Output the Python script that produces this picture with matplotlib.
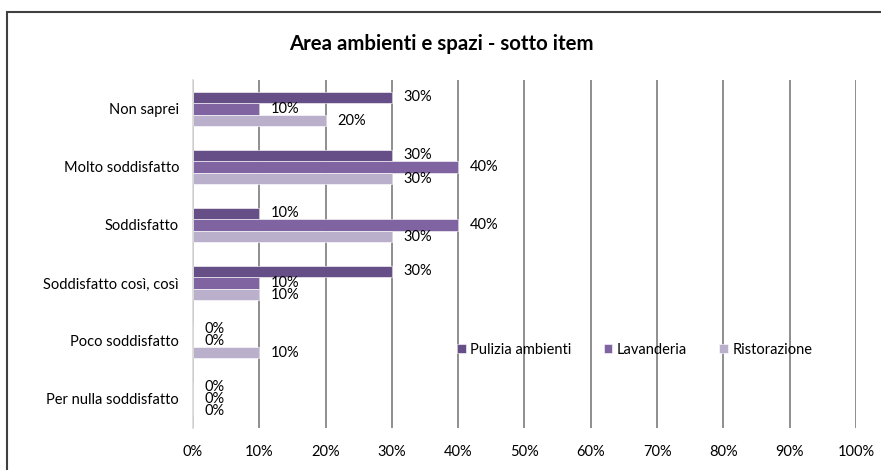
import matplotlib.pyplot as plt
import matplotlib.patches as patches
import numpy as np

# data
categories = ['Non saprei', 'Molto soddisfatto', 'Soddisfatto',
              'Soddisfatto così, così', 'Poco soddisfatto', 'Per nulla soddisfatto']
pulizia = [30, 30, 10, 30, 0, 0]
lavanderia = [10, 40, 40, 10, 0, 0]
ristorazione = [20, 30, 30, 10, 10, 0]

series = [('Pulizia ambienti', pulizia, '#654F86'),
          ('Lavanderia', lavanderia, '#8064A2'),
          ('Ristorazione', ristorazione, '#BAB0CB')]

plt.rcParams['font.family'] = ['Lato', 'DejaVu Sans']
FS = 10.5

fig = plt.figure(figsize=(8.81, 4.70), dpi=100)
ax = fig.add_axes([0.219, 0.0894, 0.7526, 0.7404])

y = np.arange(len(categories))
h = 0.2
offsets = [-h, 0, h]

for (name, vals, col), off in zip(series, offsets):
    ax.barh(y + off, vals, height=h, color=col, edgecolor='white',
            linewidth=0.4, label=name, zorder=3)
    for yi, v in zip(y, vals):
        ax.text(v + 1.8, yi + off, '%d%%' % v, va='center', ha='left',
                fontsize=FS, color='#000000', zorder=4)

ax.set_xlim(0, 100)
ax.set_ylim(len(categories) - 0.5, -0.5)
ax.set_xticks(np.arange(0, 101, 10))
ax.set_xticklabels(['%d%%' % t for t in range(0, 101, 10)])
ax.set_yticks(y)
ax.set_yticklabels(categories)
ax.tick_params(axis='both', length=0, labelsize=FS)
ax.tick_params(axis='y', pad=10)
ax.tick_params(axis='x', pad=12)

ax.xaxis.grid(True, color='#868686', linewidth=1.3, zorder=0)
ax.set_axisbelow(True)
for s in ['top', 'right', 'bottom']:
    ax.spines[s].set_visible(False)
ax.spines['left'].set_color('#D9D9D9')
ax.spines['left'].set_linewidth(1.2)
ax.spines['left'].set_zorder(5)

fig.text(441 / 881, 1 - 44 / 470, 'Area ambienti e spazi - sotto item',
         ha='center', va='center', fontsize=14.7, fontweight='bold')

leg = ax.legend(loc='center left', bbox_to_anchor=(444 / 881, 1 - 350 / 470),
                bbox_transform=fig.transFigure, ncol=3, frameon=False,
                fontsize=FS, handlelength=0.6, handleheight=0.6,
                handletextpad=0.3, columnspacing=2.2)

# outer chart border
fig.patches.append(patches.Rectangle((7 / 881, -0.05), 1.2, 1 - 12 / 470 + 0.05,
                                     transform=fig.transFigure, fill=False,
                                     edgecolor='#404040', linewidth=1.5))

fig.savefig('out.png', dpi=100)
